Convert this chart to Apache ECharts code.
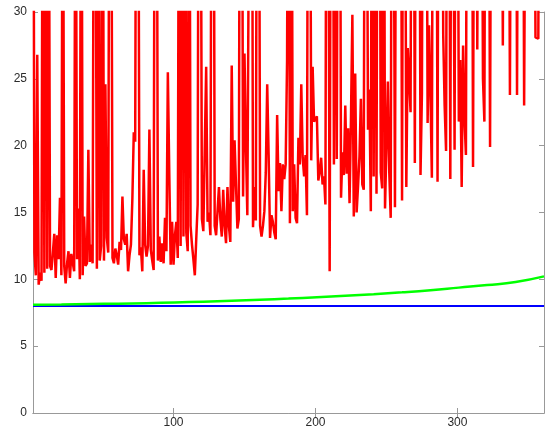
<!DOCTYPE html>
<html>
<head>
<meta charset="utf-8">
<script src="https://cdn.jsdelivr.net/npm/echarts@6/dist/echarts.min.js"></script>
<style>
  html, body { margin: 0; padding: 0; background: #ffffff; }
  #chart { width: 546px; height: 434px; }
</style>
</head>
<body>
<div id="chart"></div>
<script>
// Sample index runs from 1 to 361
const xMin = 1;
const xMax = 361;
const xTicks = [100, 200, 300];
const yTicks = [0, 5, 10, 15, 20, 25, 30];

// Noisy measured series (red); values above 30 run off the top of the plot
const redValues = [
  60, 12.0, 10.3, 26.8, 9.6, 10.5, 9.9, 55, 10.5, 60,
  10.8, 50, 11.0, 10.7, 12.0, 13.4, 10.1, 13.3, 11.5, 16.1,
  10.3, 50, 11.0, 9.7, 11.2, 12.1, 10.1, 11.9, 12.0, 10.6,
  50, 11.5, 15.3, 10.0, 55, 10.3, 14.7, 11.0, 11.2, 19.7,
  11.3, 12.6, 11.2, 50, 45, 10.8, 50, 11.4, 12.5, 55,
  11.4, 24.6, 13.1, 12.0, 55, 50, 11.6, 11.2, 12.3, 11.8,
  11.1, 12.8, 12.2, 16.2, 13.0, 12.6, 13.4, 10.6, 11.8, 12.6,
  16.0, 21.0, 20.3, 60, 55, 11.8, 12.4, 10.6, 18.2, 12.6,
  11.7, 12.5, 21.2, 12.2, 11.4, 10.7, 60, 55, 11.4, 13.2,
  11.3, 12.7, 11.2, 14.6, 12.1, 25.5, 18.0, 11.1, 14.3, 11.1,
  13.3, 14.3, 11.6, 55, 12.5, 60, 13.2, 55, 13.5, 12.1,
  55, 14.0, 12.6, 11.5, 10.3, 13.0, 15.6, 60, 50, 14.5,
  13.6, 13.7, 25.9, 14.3, 15.0, 13.3, 55, 60, 14.0, 13.3,
  13.3, 16.9, 14.5, 13.2, 16.7, 14.0, 12.7, 16.9, 14.0, 12.8,
  26.0, 15.8, 20.4, 20.3, 13.8, 14.5, 60, 55, 16.2, 26.9,
  20.0, 14.8, 14.8, 55, 60, 13.9, 16.9, 14.4, 60, 55,
  14.0, 13.2, 14.0, 15.1, 18.0, 24.6, 19.3, 13.1, 14.8, 14.3,
  13.5, 13.0, 22.3, 16.6, 18.7, 15.1, 18.6, 17.5, 18.6, 26.4,
  60, 14.2, 55, 15.1, 18.6, 14.6, 14.2, 20.6, 18.6, 24.6,
  19.1, 17.7, 19.3, 14.8, 60, 55, 18.9, 25.9, 21.8, 22.0,
  22.2, 17.4, 18.0, 19.1, 17.1, 17.7, 15.6, 60, 45, 10.6,
  55, 60, 18.6, 50, 19.0, 55, 60, 16.1, 19.5, 17.8,
  23.0, 17.9, 21.3, 15.7, 22.0, 29.8, 14.7, 25.4, 15.0, 17.0,
  19.2, 23.5, 17.1, 16.7, 60, 50, 21.2, 24.2, 15.1, 60,
  17.7, 55, 16.4, 60, 55, 18.0, 16.8, 60, 15.3, 20.0,
  24.8, 18.0, 14.6, 60, 45, 15.4, 55, 60, 50, 55,
  15.9, 60, 50, 16.9, 27.3, 25.0, 22.5, 60, 55, 18.7,
  60, 50, 55, 17.8, 23.9, 60, 50, 55, 21.7, 29.0,
  24.0, 17.6, 60, 50, 55, 17.3, 60, 45, 55, 28.3,
  23.0, 19.6, 60, 55, 17.5, 60, 45, 19.7, 60, 50,
  21.8, 26.4, 16.9, 27.5, 22.0, 19.3, 60, 55, 50, 60,
  18.4, 55, 60, 27.2, 55, 60, 50, 25.0, 21.8, 60,
  55, 50, 19.9, 55, 60, 50, 65, 55, 60, 50,
  55, 27.5, 60, 55, 60, 50, 23.8, 55, 60, 50,
  60, 23.8, 55, 60, 50, 55, 23.0, 45, 60, 55,
  50, 60, 55, 50, 28.1, 28.1, 28.0, 60, 55, 60,
  50
];

// Smooth rising curve (green), sampled every 20 indices
const greenX = [1, 21, 41, 61, 81, 101, 121, 141, 161, 181, 201, 221, 241, 261, 281, 301, 321, 341, 361];
const greenValues = [8.10, 8.12, 8.15, 8.18, 8.22, 8.27, 8.33, 8.40, 8.48, 8.56, 8.66, 8.77, 8.89, 9.03, 9.19, 9.38, 9.57, 9.80, 10.22];

// Constant reference level (blue)
const blueX = [1, 361];
const blueValues = [8, 8];

const pairs = (xs, ys) => ys.map((y, i) => [xs[i], y]);
const redData = redValues.map((y, i) => [i + 1, y]);

const axisGray = '#999999';
const textColor = '#2b2b2b';
const font = 'Liberation Sans, Arial, sans-serif';

const chart = echarts.init(document.getElementById('chart'), null, { renderer: 'canvas' });

const xBase = {
  type: 'value', min: xMin, max: xMax,
  splitLine: { show: false },
  axisLine: { show: true, lineStyle: { color: axisGray, width: 1 } },
  axisTick: { show: true, inside: true, length: 5, customValues: xTicks, lineStyle: { color: axisGray } }
};
const yBase = {
  type: 'value', min: 0, max: 30, interval: 5,
  splitLine: { show: false },
  axisLine: { show: true, lineStyle: { color: axisGray, width: 1 } },
  axisTick: { show: true, inside: true, length: 5, customValues: yTicks, lineStyle: { color: axisGray } }
};

chart.setOption({
  animation: false,
  backgroundColor: '#ffffff',
  grid: { left: 33, right: 2, top: 12, bottom: 21, containLabel: false },
  xAxis: [
    Object.assign({}, xBase, {
      position: 'bottom',
      axisLabel: { show: true, customValues: xTicks, color: textColor, fontSize: 12, fontFamily: font, margin: 4 }
    }),
    Object.assign({}, xBase, { position: 'top', axisLabel: { show: false } })
  ],
  yAxis: [
    Object.assign({}, yBase, {
      position: 'left',
      axisLabel: { show: true, customValues: yTicks, color: textColor, fontSize: 12, fontFamily: font, margin: 6 }
    }),
    Object.assign({}, yBase, { position: 'right', axisLabel: { show: false } })
  ],
  series: [
    {
      type: 'line', data: pairs(blueX, blueValues), xAxisIndex: 0, yAxisIndex: 0,
      showSymbol: false, clip: true,
      lineStyle: { color: '#0000ff', width: 2 }
    },
    {
      type: 'line', data: pairs(greenX, greenValues), xAxisIndex: 0, yAxisIndex: 0,
      showSymbol: false, smooth: true, clip: true,
      lineStyle: { color: '#00ff00', width: 2.5 }
    },
    {
      type: 'line', data: redData, xAxisIndex: 0, yAxisIndex: 0,
      showSymbol: false, clip: true,
      lineStyle: { color: '#ff0000', width: 2.5 }
    }
  ]
});
</script>
</body>
</html>
